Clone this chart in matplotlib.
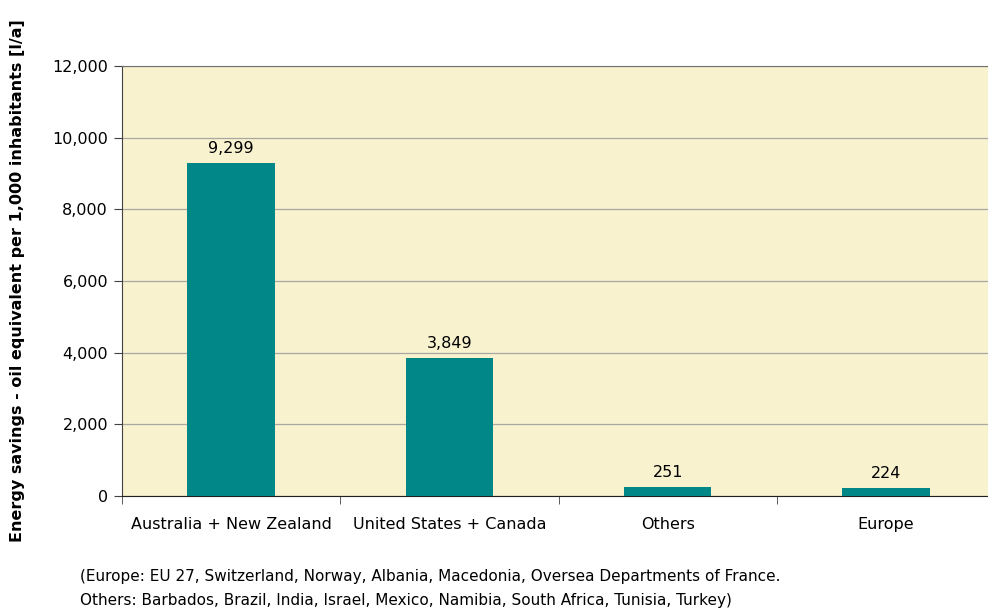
import matplotlib.pyplot as plt
from matplotlib.ticker import FuncFormatter, FixedLocator

regions = ["Australia + New Zealand", "United States + Canada", "Others", "Europe"]
savings = [9299, 3849, 251, 224]
y_ticks = [0, 2000, 4000, 6000, 8000, 10000, 12000]

note = ("(Europe: EU 27, Switzerland, Norway, Albania, Macedonia, Oversea Departments of France.\n"
        "Others: Barbados, Brazil, India, Israel, Mexico, Namibia, South Africa, Tunisia, Turkey)")

fig = plt.figure(figsize=(9.88, 6.13), dpi=100)
ax = fig.add_axes([122 / 988, 117 / 613, 873 / 988, 430 / 613])
ax.set_facecolor("#f8f2cf")

x = range(len(regions))
ax.bar(x, savings, width=0.40, color="#018787", zorder=3)
for xi, v in zip(x, savings):
    ax.text(xi, v + 200, f"{v:,}", ha="center", va="bottom", fontsize=11.5, color="black")

ax.set_xlim(-0.5, len(regions) - 0.5)
ax.set_ylim(0, 12000)
ax.set_yticks(y_ticks)
ax.yaxis.set_major_formatter(FuncFormatter(lambda v, p: f"{int(v):,}"))
ax.yaxis.grid(True, color="#a8a8a0", linewidth=0.9, zorder=0)

# category labels centred, tick marks between the groups
ax.set_xticks(list(x))
ax.set_xticklabels(regions, fontsize=11.5)
ax.tick_params(axis="x", which="major", length=0, pad=15)
ax.xaxis.set_minor_locator(FixedLocator([i + 0.5 for i in range(len(regions) - 1)] + [-0.5]))
ax.tick_params(axis="x", which="minor", length=6, color="#404040")
ax.tick_params(axis="y", length=6, color="#404040", labelsize=11.5, pad=4)

ax.spines["right"].set_visible(False)
ax.spines["top"].set_color("#707070")
ax.spines["left"].set_color("#404040")
ax.spines["bottom"].set_color("#202020")

fig.text(0.018, 1 - 281 / 613, "Energy savings - oil equivalent per 1,000 inhabitants [l/a]",
         rotation=90, ha="center", va="center", fontsize=11.5, fontweight="bold")
fig.text(80 / 988, 1 - 588 / 613, note, ha="left", va="center", fontsize=11, linespacing=1.75)

fig.savefig("out.png", dpi=100)
